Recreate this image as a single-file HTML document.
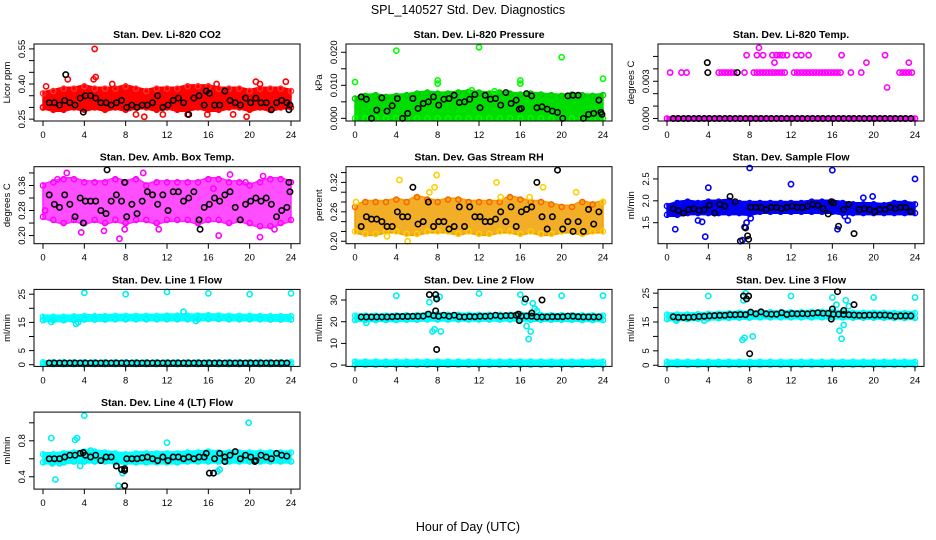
<!DOCTYPE html>
<html><head><meta charset="utf-8"><style>
html,body{margin:0;padding:0;background:#fff;}
svg{display:block;font-family:"Liberation Sans",Arial,sans-serif;}
</style></head><body>
<svg id="chart" width="936" height="540" viewBox="0 0 936 540" xmlns="http://www.w3.org/2000/svg">
<text x="468" y="14" text-anchor="middle" font-size="12.5">SPL_140527  Std. Dev. Diagnostics</text>
<text x="468" y="531" text-anchor="middle" font-size="12.5">Hour of Day (UTC)</text>
</svg>
<script>
const H = [0,1,2,3,4,5,6,7,8,9,10,11,12,13,14,15,16,17,18,19,20,21,22,23,24];
const BX = [0.6,1.1,1.6,2.1,2.6,3.1,3.6,4.1,4.6,5.1,5.6,6.1,6.6,7.1,7.6,8.1,8.6,9.1,9.6,10.1,10.6,11.1,11.6,12.1,12.6,13.1,13.6,14.1,14.6,15.1,15.6,16.1,16.6,17.1,17.6,18.1,18.6,19.1,19.6,20.1,20.6,21.1,21.6,22.1,22.6,23.1,23.6];
const xTicks = [0,4,8,12,16,20,24];

// Panel 1: CO2
const p1Lo = [0.30,0.29,0.29,0.30,0.29,0.30,0.29,0.30,0.29,0.30,0.30,0.29,0.30,0.29,0.29,0.30,0.29,0.29,0.30,0.30,0.29,0.30,0.29,0.30,0.30];
const p1Hi = [0.36,0.37,0.38,0.38,0.39,0.38,0.38,0.38,0.39,0.38,0.37,0.38,0.38,0.38,0.39,0.39,0.39,0.38,0.38,0.38,0.37,0.38,0.38,0.38,0.37];
const p1OX = [5,5.1,4.9,6.7,0.3,9.8,9,16.8,19.7,20.6,23.5,14,18.4,0,15.9,2.4,21,11.6];
const p1OY = [0.55,0.43,0.42,0.40,0.39,0.26,0.27,0.40,0.26,0.41,0.41,0.27,0.27,0.30,0.27,0.42,0.40,0.27];
const p1BY = [0.32,0.32,0.31,0.33,0.32,0.31,0.34,0.35,0.35,0.34,0.32,0.32,0.31,0.32,0.33,0.30,0.31,0.30,0.31,0.31,0.32,0.35,0.30,0.31,0.33,0.34,0.32,0.27,0.34,0.35,0.31,0.36,0.31,0.31,0.37,0.33,0.32,0.31,0.34,0.32,0.34,0.32,0.32,0.29,0.32,0.33,0.32];
const p1EX = [2.2,3.9,15.8,23.8,23.9];
const p1EY = [0.44,0.28,0.37,0.29,0.31];
const p1YT = [0.25,0.30,0.35,0.40,0.45,0.50,0.55];
const p1YL = ["0.25","","","0.40","","","0.55"];

// Panel 2: Pressure
const p2Lo = [0,0,0,0,0,0,0,0,0,0,0,0,0,0,0,0,0,0,0,0,0,0,0,0,0];
const p2Hi = [0.0060,0.0068,0.0070,0.0065,0.0068,0.0070,0.0075,0.0078,0.0075,0.0075,0.0078,0.0080,0.0078,0.0075,0.0078,0.0075,0.0072,0.0075,0.0072,0.0070,0.0068,0.0072,0.0070,0.0068,0.0070];
const p2OX = [0,4,8,8,12,16,16,20,24,11.3,13.5];
const p2OY = [0.0110,0.0205,0.0115,0.0105,0.0215,0.0115,0.0105,0.0185,0.0120,0.0085,0.0082];
const p2BY = [0.0065,0.0058,0.0000,0.0025,0.0062,0.0022,0.0038,0.0060,0.0000,0.0015,0.0060,0.0030,0.0045,0.0050,0.0065,0.0040,0.0058,0.0060,0.0070,0.0048,0.0050,0.0058,0.0072,0.0032,0.0070,0.0058,0.0060,0.0040,0.0078,0.0045,0.0055,0.0030,0.0075,0.0068,0.0032,0.0035,0.0028,0.0022,0.0018,0.0000,0.0068,0.0070,0.0070,0.0000,0.0012,0.0015,0.0055];
const p2EX = [15.9,23.8,23.9];
const p2EY = [0.0028,0.0018,0.0012];
const p2YT = [0,0.005,0.010,0.015,0.020];
const p2YL = ["0.000","","0.010","","0.020"];

// Panel 3: Li-820 Temp
const p3Lo = [0,0,0,0,0,0,0,0,0,0,0,0,0,0,0,0,0,0,0,0,0,0,0,0,0];
const p3Hi = [0,0,0,0,0,0,0,0,0,0,0,0,0,0,0,0,0,0,0,0,0,0,0,0,0];
const p3OX = [0.3,1.4,1.9,5,5.3,5.6,5.9,6.2,6.5,7.5,8.4,8.7,9,9.3,9.6,9.9,10.2,10.5,10.8,11.1,11.4,12.3,12.6,12.9,13.2,13.5,13.8,14.1,14.4,14.7,15,15.3,15.6,15.9,16.2,16.5,16.8,17.8,18.8,22.5,22.8,23.1,23.4,23.7,7.7,8.7,9.3,10.2,10.6,10.9,11.2,11.6,12.5,13,13.7,16.9,21.1,8.9,10.4,19.3,23.4,21.3];
const p3OY = [0.0037,0.0037,0.0037,0.0037,0.0037,0.0037,0.0037,0.0037,0.0037,0.0037,0.0037,0.0037,0.0037,0.0037,0.0037,0.0037,0.0037,0.0037,0.0037,0.0037,0.0037,0.0037,0.0037,0.0037,0.0037,0.0037,0.0037,0.0037,0.0037,0.0037,0.0037,0.0037,0.0037,0.0037,0.0037,0.0037,0.0037,0.0037,0.0037,0.0037,0.0037,0.0037,0.0037,0.0037,0.0051,0.0051,0.0051,0.0051,0.0051,0.0051,0.0051,0.0051,0.0051,0.0051,0.0051,0.0051,0.0051,0.0057,0.0045,0.0045,0.0045,0.0025];
const p3BY = [0,0,0,0,0,0,0,0,0,0,0,0,0,0,0,0,0,0,0,0,0,0,0,0,0,0,0,0,0,0,0,0,0,0,0,0,0,0,0,0,0,0,0,0,0,0,0];
const p3EX = [3.9,3.95,6.8];
const p3EY = [0.0045,0.0037,0.0037];
const p3YT = [0,0.001,0.002,0.003,0.004,0.005];
const p3YL = ["0.000","","","0.003","",""];

// Panel 4: Amb Box Temp
const p4Lo = [0.26,0.25,0.24,0.25,0.24,0.25,0.24,0.25,0.24,0.25,0.25,0.24,0.25,0.25,0.25,0.24,0.25,0.25,0.24,0.25,0.24,0.23,0.23,0.24,0.25];
const p4Hi = [0.36,0.37,0.38,0.38,0.37,0.37,0.37,0.38,0.37,0.38,0.36,0.37,0.37,0.37,0.37,0.37,0.38,0.38,0.37,0.37,0.36,0.37,0.38,0.38,0.37];
const p4OX = [2.3,7.4,3.7,9.7,17,21,18.1,21.3,0.2,1.4,7.9,16.5,11.2,5.9,19.6,22.4];
const p4OY = [0.40,0.19,0.21,0.40,0.20,0.195,0.395,0.39,0.28,0.38,0.22,0.35,0.22,0.215,0.37,0.22];
const p4BY = [0.33,0.30,0.29,0.33,0.30,0.26,0.32,0.31,0.31,0.31,0.28,0.27,0.31,0.33,0.31,0.26,0.30,0.27,0.31,0.34,0.33,0.30,0.33,0.28,0.34,0.34,0.31,0.32,0.34,0.25,0.29,0.30,0.32,0.31,0.33,0.34,0.29,0.25,0.30,0.31,0.32,0.31,0.32,0.30,0.26,0.28,0.29];
const p4EX = [6.2,7.9,15.2,23.8,23.9,3.9];
const p4EY = [0.41,0.37,0.22,0.37,0.34,0.24];
const p4YT = [0.20,0.24,0.28,0.32,0.36,0.40];
const p4YL = ["0.20","","0.28","","0.36",""];

// Panel 5: Gas Stream RH
const p5Lo = [0.22,0.215,0.215,0.22,0.22,0.215,0.215,0.22,0.22,0.22,0.215,0.22,0.215,0.215,0.22,0.22,0.215,0.22,0.215,0.215,0.22,0.22,0.215,0.22,0.22];
const p5Hi = [0.27,0.28,0.28,0.28,0.285,0.28,0.29,0.285,0.28,0.285,0.285,0.28,0.28,0.28,0.28,0.29,0.285,0.28,0.28,0.275,0.27,0.27,0.28,0.275,0.28];
const p5OX = [4.3,7.9,13.7,18.2,21.4,7.7,0.1,24,7.2,14.1,16.9,5.1,3.1];
const p5OY = [0.325,0.335,0.32,0.31,0.30,0.31,0.28,0.28,0.30,0.29,0.29,0.2,0.21];
const p5BY = [0.23,0.25,0.245,0.245,0.24,0.23,0.23,0.26,0.25,0.25,0.31,0.235,0.24,0.28,0.23,0.24,0.24,0.225,0.23,0.27,0.23,0.27,0.25,0.25,0.24,0.24,0.245,0.26,0.24,0.27,0.23,0.26,0.265,0.27,0.32,0.25,0.225,0.25,0.345,0.225,0.24,0.22,0.24,0.22,0.265,0.235,0.26];
const p5EX = [];
const p5EY = [];
const p5YT = [0.20,0.22,0.24,0.26,0.28,0.30,0.32,0.34];
const p5YL = ["0.20","","","0.26","","","0.32",""];

// Panel 6: Sample Flow
const p6Lo = [1.68,1.68,1.72,1.72,1.72,1.72,1.72,1.72,1.7,1.75,1.75,1.75,1.75,1.75,1.75,1.75,1.75,1.72,1.72,1.72,1.72,1.72,1.72,1.72,1.72];
const p6Hi = [1.88,1.95,1.98,1.95,1.98,1.98,2.0,1.95,1.95,1.95,1.95,1.95,1.95,1.95,1.98,1.98,1.98,1.95,1.92,1.92,1.92,1.9,1.95,1.95,1.92];
const p6OX = [8,16,24,12,4,0.8,3.7,7.3,7.7,19,19.9,17.5,16.5,3,3.4,8.1,17.2,7.5];
const p6OY = [2.75,2.7,2.5,2.38,2.3,1.35,1.18,1.1,1.5,2.07,2.1,1.55,1.35,1.55,1.52,1.6,1.65,1.4];
const p6BY = [1.82,1.78,1.72,1.8,1.82,1.78,1.8,1.9,1.72,1.92,1.88,2.1,1.98,1.08,1.38,1.85,1.85,1.85,1.8,1.85,1.85,1.82,1.85,1.88,1.85,1.85,1.88,1.92,1.9,1.82,1.7,1.95,1.42,1.8,1.92,1.25,1.8,1.82,1.8,1.75,1.8,1.8,1.85,1.82,1.85,1.85,1.75];
const p6EX = [7.9,7.8,15.9];
const p6EY = [1.12,1.2,1.98];
const p6YT = [1.5,2.0,2.5];
const p6YL = ["1.5","2.0","2.5"];

// Panel 7: Line 1 Flow
const p7Lo = [15.8,15.8,15.8,15.9,16,16,16,16.1,16.1,16.1,16.1,16.1,16.1,16.1,16.1,16.1,16.2,16.2,16.1,16.1,16.1,16.1,16,16,16];
const p7Hi = [17.0,17.0,17.0,17.1,17.2,17.2,17.2,17.3,17.3,17.3,17.3,17.3,17.4,17.4,17.4,17.4,17.5,17.4,17.3,17.3,17.3,17.2,17.2,17.2,17.2];
const p7Lo2 = [0.2,0.2,0.2,0.2,0.2,0.2,0.2,0.2,0.2,0.2,0.2,0.2,0.2,0.2,0.2,0.2,0.2,0.2,0.2,0.2,0.2,0.2,0.2,0.2,0.2];
const p7Hi2 = [0.9,0.9,0.9,0.9,0.9,0.9,0.9,0.9,0.9,0.9,0.9,0.9,0.9,0.9,0.9,0.9,0.9,0.9,0.9,0.9,0.9,0.9,0.9,0.9,0.9];
const p7OX = [4,8,12,16,20,24,13.6,3.2,14.8,0.8,3.4];
const p7OY = [25.5,25,25.8,25.3,25,25.3,18.8,14.5,15.5,15.2,15];
const p7BY = [0.6,0.6,0.6,0.6,0.6,0.6,0.6,0.6,0.6,0.6,0.6,0.6,0.6,0.6,0.6,0.6,0.6,0.6,0.6,0.6,0.6,0.6,0.6,0.6,0.6,0.6,0.6,0.6,0.6,0.6,0.6,0.6,0.6,0.6,0.6,0.6,0.6,0.6,0.6,0.6,0.6,0.6,0.6,0.6,0.6,0.6,0.6];
const p7EX = [];
const p7EY = [];
const p7YT = [0,5,10,15,20,25];
const p7YL = ["0","5","","15","","25"];

// Panel 8: Line 2 Flow
const p8Lo = [20.8,20.8,20.8,20.8,20.8,20.9,20.9,21,21,21,21,21,21,21,21,21,21,20.9,20.9,20.9,20.9,20.9,20.8,20.8,20.8];
const p8Hi = [22.8,22.8,22.8,22.8,22.9,23,23,23.5,23.5,23.2,23.2,23.2,23.2,23.2,23.2,23.2,23.5,23.2,23,23,23,23,22.9,22.9,22.8];
const p8Lo2 = [0.1,0.1,0.1,0.1,0.1,0.1,0.1,0.1,0.1,0.1,0.1,0.1,0.1,0.1,0.1,0.1,0.1,0.1,0.1,0.1,0.1,0.1,0.1,0.1,0.1];
const p8Hi2 = [1.6,1.6,1.6,1.6,1.6,1.6,1.6,1.6,1.6,1.6,1.6,1.6,1.6,1.6,1.6,1.6,1.6,1.6,1.6,1.6,1.6,1.6,1.6,1.6,1.6];
const p8OX = [4,12,16,20,24,7.2,7.5,7.7,8.3,16.8,17,16.6,17.2,17.6,17.4,7.9,8.2,1.1,16.4];
const p8OY = [32,33,32.5,32,32,29,15.5,16.5,15.5,12,15.5,18,28.5,25,26,31,31.5,19.5,29];
const p8BY = [22.2,22.2,22.2,22.2,22.2,22.2,22.3,22.4,22.4,22.4,22.5,22.5,22.6,23.5,22.8,22.5,23,22.5,23,22.3,22.2,22.4,22.3,22.5,22.5,22.6,23,22.6,22.8,22.8,23,22.6,22.6,22.5,22.2,22.2,22.2,22.3,22.3,22.3,22.6,22.5,22.3,22.2,22.2,22.2,22.2];
const p8EX = [7.2,7.8,7.9,7.8,7.9,16.5,18.1,17.1,15.9,15.8];
const p8EY = [32.5,32.5,30.5,25,7.2,30.5,30,24,20.5,23.5];
const p8YT = [0,10,20,30];
const p8YL = ["0","10","20","30"];

// Panel 9: Line 3 Flow
const p9Lo = [16,16,16,16.1,16.2,16.3,16.4,16.5,16.5,16.6,16.6,16.6,16.6,16.6,16.6,16.6,16.6,16.6,16.5,16.5,16.5,16.5,16.4,16.4,16.4];
const p9Hi = [17.6,17.6,17.6,17.7,17.8,17.9,18,18.2,18.2,18.4,18.4,18.4,18.4,18.4,18.5,18.5,18.6,18.4,18.2,18.2,18.2,18.2,18.1,18.1,18.1];
const p9Lo2 = [0.1,0.1,0.1,0.1,0.1,0.1,0.1,0.1,0.1,0.1,0.1,0.1,0.1,0.1,0.1,0.1,0.1,0.1,0.1,0.1,0.1,0.1,0.1,0.1,0.1];
const p9Hi2 = [1.2,1.2,1.2,1.2,1.2,1.2,1.2,1.2,1.2,1.2,1.2,1.2,1.2,1.2,1.2,1.2,1.2,1.2,1.2,1.2,1.2,1.2,1.2,1.2,1.2];
const p9OX = [4,12,16,20,24,7.3,7.5,8.3,7.4,7.6,16.7,16.9,17.1,17.3,16.4,17.6,0.9,3.6];
const p9OY = [24,24,23.5,23.5,23.5,8.8,9.5,10,22.5,25,12,9.2,14,22.5,21,20.5,15.5,15.5];
const p9BY = [16.8,16.6,16.6,16.6,16.7,16.9,17,17.1,17.2,17.3,17.3,17.5,17.5,17.6,17.5,18.4,17.8,18.5,17.8,17.7,17.7,18.2,17.6,17.9,17.8,17.9,17.8,18,18.2,18,18,17.7,17.7,17.6,17.5,17.4,17.3,17.3,17.4,17.4,17.4,17.4,17.2,17,17.1,17.1,17.1];
const p9EX = [7.4,7.7,7.9,8,16.5,16,15.9,17.1,18.1];
const p9EY = [24,23,24,4,25.5,19.5,16,19,21];
const p9YT = [0,5,10,15,20,25];
const p9YL = ["0","5","","15","","25"];

// Panel 10: Line 4 (LT) Flow
const p10Lo = [0.56,0.56,0.56,0.57,0.57,0.57,0.57,0.56,0.56,0.56,0.56,0.56,0.56,0.56,0.57,0.57,0.57,0.57,0.57,0.57,0.57,0.57,0.57,0.57,0.57];
const p10Hi = [0.65,0.65,0.66,0.67,0.68,0.68,0.67,0.66,0.65,0.66,0.66,0.66,0.66,0.66,0.67,0.67,0.68,0.67,0.67,0.67,0.67,0.67,0.67,0.67,0.67];
const p10OX = [0.8,1.2,3.1,3.3,4,3.6,7.3,7.7,12,16.9,17.1,19.9,0.9,1.6,4.6];
const p10OY = [0.83,0.37,0.81,0.83,1.08,0.52,0.3,0.44,0.78,0.46,0.48,1.0,0.55,0.55,0.69];
const p10BY = [0.6,0.6,0.6,0.62,0.64,0.64,0.66,0.64,0.62,0.64,0.58,0.62,0.62,0.52,0.48,0.6,0.6,0.6,0.61,0.62,0.6,0.58,0.62,0.58,0.62,0.62,0.6,0.62,0.6,0.62,0.62,0.44,0.6,0.66,0.62,0.64,0.68,0.6,0.64,0.62,0.58,0.64,0.62,0.6,0.66,0.64,0.63];
const p10EX = [7.9,7.9,7.9,16.5,17.6,20.5,3.9,15.8];
const p10EY = [0.49,0.47,0.3,0.44,0.57,0.57,0.67,0.66];
const p10YT = [0.4,0.6,0.8,1.0];
const p10YL = ["0.4","","0.8",""];

const panels = [
 {key:'co2', title:'Stan. Dev. Li-820 CO2', yt:'Licor ppm', col:0,row:0, ylim:[0.242,0.571], bands:[[p1Lo,p1Hi]], fill:'#ff0000', op:1, edge:['#ff0000','#ff3030'], ox:p1OX, oy:p1OY, by:p1BY, ex:p1EX, ey:p1EY, ticks:p1YT, labels:p1YL},
 {key:'pressure', title:'Stan. Dev. Li-820 Pressure', yt:'kPa', col:1,row:0, ylim:[-0.0008,0.0225], bands:[[p2Lo,p2Hi]], fill:'#00dd00', op:1, edge:['#00ff00','#00cc00'], ox:p2OX, oy:p2OY, by:p2BY, ex:p2EX, ey:p2EY, ticks:p2YT, labels:p2YL},
 {key:'li820-temp', title:'Stan. Dev. Li-820 Temp.', yt:'degrees C', col:2,row:0, ylim:[-0.0002,0.0060], bands:[[p3Lo,p3Hi]], fill:'#ff00ff', op:1, edge:['#ff00ff','#ff00ff'], ox:p3OX, oy:p3OY, by:p3BY, ex:p3EX, ey:p3EY, ticks:p3YT, labels:p3YL},
 {key:'box-temp', title:'Stan. Dev. Amb. Box Temp.', yt:'degrees C', col:0,row:1, ylim:[0.174,0.42], bands:[[p4Lo,p4Hi]], fill:'#ff22ff', op:0.8, edge:['#ff00ff','#ff00ff'], ox:p4OX, oy:p4OY, by:p4BY, ex:p4EX, ey:p4EY, ticks:p4YT, labels:p4YL},
 {key:'rh', title:'Stan. Dev. Gas Stream RH', yt:'percent', col:1,row:1, ylim:[0.195,0.352], bands:[[p5Lo,p5Hi]], fill:'#f0a000', op:0.85, edge:['#ffd000','#ff6000'], ox:p5OX, oy:p5OY, by:p5BY, ex:p5EX, ey:p5EY, ticks:p5YT, labels:p5YL},
 {key:'sample-flow', title:'Stan. Dev. Sample Flow', yt:'ml/min', col:2,row:1, ylim:[1.02,2.78], bands:[[p6Lo,p6Hi]], fill:'#0000ee', op:1, edge:['#0000ff','#0000ff'], ox:p6OX, oy:p6OY, by:p6BY, ex:p6EX, ey:p6EY, ticks:p6YT, labels:p6YL},
 {key:'line1-flow', title:'Stan. Dev. Line 1 Flow', yt:'ml/min', col:0,row:2, ylim:[-0.6,26.7], bands:[[p7Lo,p7Hi],[p7Lo2,p7Hi2]], fill:'#00ffff', op:1, edge:['#00f0f0','#00ffff'], ox:p7OX, oy:p7OY, by:p7BY, ex:p7EX, ey:p7EY, ticks:p7YT, labels:p7YL},
 {key:'line2-flow', title:'Stan. Dev. Line 2 Flow', yt:'ml/min', col:1,row:2, ylim:[-0.6,34.9], bands:[[p8Lo,p8Hi],[p8Lo2,p8Hi2]], fill:'#00ffff', op:1, edge:['#00f0f0','#00ffff'], ox:p8OX, oy:p8OY, by:p8BY, ex:p8EX, ey:p8EY, ticks:p8YT, labels:p8YL},
 {key:'line3-flow', title:'Stan. Dev. Line 3 Flow', yt:'ml/min', col:2,row:2, ylim:[-0.4,26.3], bands:[[p9Lo,p9Hi],[p9Lo2,p9Hi2]], fill:'#00ffff', op:1, edge:['#00f0f0','#00ffff'], ox:p9OX, oy:p9OY, by:p9BY, ex:p9EX, ey:p9EY, ticks:p9YT, labels:p9YL},
 {key:'line4-flow', title:'Stan. Dev. Line 4 (LT) Flow', yt:'ml/min', col:0,row:3, ylim:[0.263,1.119], bands:[[p10Lo,p10Hi]], fill:'#00ffff', op:1, edge:['#00f0f0','#00ffff'], ox:p10OX, oy:p10OY, by:p10BY, ex:p10EX, ey:p10EY, ticks:p10YT, labels:p10YL}
];

const NS = 'http://www.w3.org/2000/svg';
const svg = document.getElementById('chart');
function mk(tag, attrs, parent){
  const e = document.createElementNS(NS, tag);
  for (const k in attrs) e.setAttribute(k, attrs[k]);
  (parent||svg).appendChild(e);
  return e;
}

panels.forEach(p => {
  const L = 34 + 312*p.col, R = 300 + 312*p.col;
  const T = 44 + 122.7*p.row, B = T + 77;
  const x0 = 43 + 312*p.col, x24 = 291 + 312*p.col;
  const xs = v => x0 + (x24 - x0) * v / 24;
  const ys = v => B - (B - T) * (v - p.ylim[0]) / (p.ylim[1] - p.ylim[0]);
  const g = mk('g', {});
  
  

  p.bands.forEach((bd, bi) => {
    const lo = bd[0], hi = bd[1];
    let d = '';
    H.forEach((h,i)=>{ d += (i?'L':'M') + xs(h).toFixed(1) + ' ' + (ys(hi[i])-1.5).toFixed(1); });
    for (let i=H.length-1;i>=0;i--) d += 'L' + xs(H[i]).toFixed(1) + ' ' + (ys(lo[i])+1.5).toFixed(1);
    const band = mk('path', {d: d+'Z', fill: p.fill, 'fill-opacity': p.op, stroke: p.fill, 'stroke-width': 1.5}, g);
    
    
    H.forEach((h,i)=>{
      [lo[i], hi[i]].forEach((v, j) => {
        const c = mk('circle', {cx: xs(h), cy: ys(v), r: 2.6, fill: 'none', stroke: p.edge[j], 'stroke-width': 1.4}, g);
        
        
      });
    });
  });
  p.ox.forEach((x,i)=>{
    const c = mk('circle', {cx: xs(x), cy: ys(p.oy[i]), r: 2.6, fill: 'none', stroke: p.edge[0], 'stroke-width': 1.6}, g);
    
    
  });
  const bxAll = BX.concat(p.ex), byAll = p.by.concat(p.ey);
  bxAll.forEach((x,i)=>{
    const c = mk('circle', {cx: xs(x), cy: ys(byAll[i]), r: 2.7, fill: 'none', stroke: '#000', 'stroke-width': 1.6}, g);
    
    
  });
  const box = mk('rect', {x: L, y: T, width: R-L, height: B-T, fill: 'none', stroke: '#000', 'stroke-width': 1}, g);
  
  
  xTicks.forEach(t => {
    const ln = mk('line', {x1: xs(t), x2: xs(t), y1: B, y2: B+5, stroke: '#000'}, g);
    
    
    const tx = mk('text', {x: xs(t), y: B+17, 'text-anchor': 'middle', 'font-size': 9.5}, g);
    
    
    tx.textContent = t;
  });
  p.ticks.forEach((t,i) => {
    const y = ys(t);
    const ln = mk('line', {x1: L-5, x2: L, y1: y, y2: y, stroke: '#000'}, g);
    
    
    if (p.labels[i]) {
      const tx = mk('text', {x: L-9, y: y, 'text-anchor': 'middle', 'font-size': 9.5, transform: 'rotate(-90 ' + (L-9) + ' ' + y + ')'}, g);
      
      
      tx.textContent = p.labels[i];
    }
  });
  const yc = (T+B)/2;
  const yt = mk('text', {x: L-24, y: yc, 'text-anchor': 'middle', 'font-size': 9.5, transform: 'rotate(-90 ' + (L-24) + ' ' + yc + ')'}, g);
  
  
  yt.textContent = p.yt;
  const tt = mk('text', {x: (L+R)/2, y: T-6, 'text-anchor': 'middle', 'font-size': 10.5, 'font-weight': 'bold'}, g);
  
  
  tt.textContent = p.title;
});
</script>
</body></html>
